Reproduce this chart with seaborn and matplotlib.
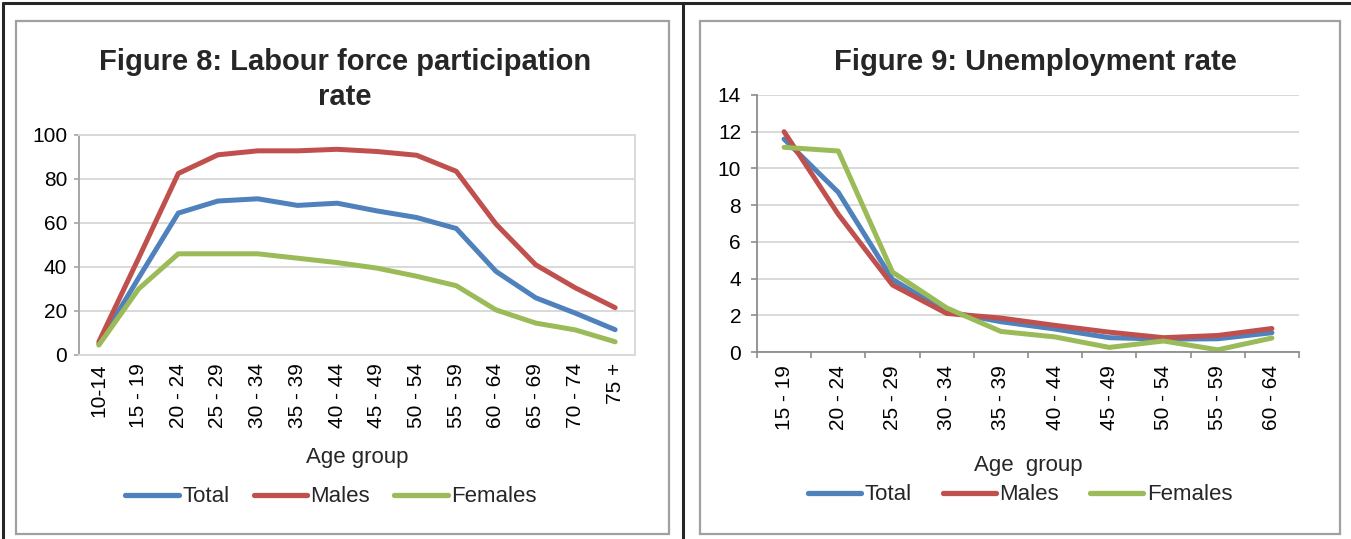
import matplotlib
matplotlib.use("Agg")
import matplotlib.pyplot as plt
from matplotlib.patches import Rectangle
from matplotlib.lines import Line2D
import seaborn as sns
import pandas as pd

# ---- data -------------------------------------------------------------
lfp_ages = ["10-14", "15 - 19", "20 - 24", "25 - 29", "30 - 34", "35 - 39", "40 - 44",
            "45 - 49", "50 - 54", "55 - 59", "60 - 64", "65 - 69", "70 - 74", "75 +"]
lfp_total = [5, 35, 64.5, 70, 71, 68, 69, 65.5, 62.5, 57.5, 38, 26, 19, 11.5]
lfp_males = [6, 44, 82.5, 91, 92.8, 92.8, 93.5, 92.5, 90.8, 83.5, 59.5, 41, 30.5, 21.5]
lfp_females = [4.5, 30, 46, 46, 46, 44, 42, 39.5, 35.8, 31.5, 20.5, 14.5, 11.4, 6]

unemp_ages = ["15 - 19", "20 - 24", "25 - 29", "30 - 34", "35 - 39", "40 - 44",
              "45 - 49", "50 - 54", "55 - 59", "60 - 64"]
unemp_total = [11.6, 8.7, 3.95, 2.2, 1.65, 1.25, 0.78, 0.7, 0.72, 1.05]
unemp_males = [12.0, 7.5, 3.65, 2.1, 1.85, 1.45, 1.08, 0.78, 0.9, 1.28]
unemp_females = [11.15, 10.95, 4.35, 2.4, 1.12, 0.82, 0.25, 0.6, 0.12, 0.76]

series_names = ["Total", "Males", "Females"]
palette = {"Total": "#4F81BD", "Males": "#C0504D", "Females": "#9BBB59"}


def long_frame(ages, total, males, females):
    rows = []
    for name, vals in zip(series_names, [total, males, females]):
        for a, v in zip(ages, vals):
            rows.append({"age": a, "value": v, "series": name})
    return pd.DataFrame(rows)


lfp_df = long_frame(lfp_ages, lfp_total, lfp_males, lfp_females)
unemp_df = long_frame(unemp_ages, unemp_total, unemp_males, unemp_females)

# ---- figure -----------------------------------------------------------
sns.set_theme(style="white")
plt.rcParams["font.family"] = ["Liberation Sans", "DejaVu Sans"]

W, H = 1351, 539
fig = plt.figure(figsize=(W / 100, H / 100), dpi=100)
fig.patch.set_facecolor("white")


def px_axes(x0, y0, x1, y1):
    """Axes placed by pixel box (top-left origin)."""
    return fig.add_axes([x0 / W, 1 - y1 / H, (x1 - x0) / W, (y1 - y0) / H])


def px_rect(x0, y0, x1, y1, **kw):
    fig.add_artist(Rectangle((x0 / W, 1 - y1 / H), (x1 - x0) / W, (y1 - y0) / H,
                             transform=fig.transFigure, fill=False, **kw))


def px_line(xs, ys, **kw):
    fig.add_artist(Line2D([x / W for x in xs], [1 - y / H for y in ys],
                          transform=fig.transFigure, **kw))


# table-cell frame and chart boxes
px_line([3, W], [3, 3], color="#262626", lw=2.2)
px_line([3, 3], [3, H], color="#262626", lw=2.2)
px_line([683, 683], [3, H], color="#262626", lw=2.2)
px_rect(16, 21, 669, 534, edgecolor="#A0A0A0", lw=1.6)
px_rect(700, 21, 1340, 534, edgecolor="#A0A0A0", lw=1.6)

grid_c = "#D9D9D9"
axis_c = "#A6A6A6"
tick_fs = 15
label_fs = 16
title_fs = 21
line_w = 3.6

# ---- Figure 8 ---------------------------------------------------------
ax1 = px_axes(79, 135, 635, 355)
sns.lineplot(data=lfp_df, x="age", y="value", hue="series", palette=palette,
             hue_order=series_names, lw=line_w, ax=ax1, legend=False, sort=False)
ax1.set_xlim(-0.5, len(lfp_ages) - 0.5)
ax1.set_ylim(0, 100)
ax1.set_yticks(range(0, 101, 20))
ax1.yaxis.grid(True, color=grid_c, lw=1.4)
ax1.set_axisbelow(True)
for s in ax1.spines.values():
    s.set_color(grid_c)
    s.set_linewidth(1.4)
ax1.spines["left"].set_color(axis_c)
ax1.set_xticks(range(len(lfp_ages)))
ax1.set_xticklabels(lfp_ages, rotation=90)
ax1.tick_params(axis="x", length=0, pad=6, labelsize=tick_fs, colors="black")
ax1.tick_params(axis="y", length=3.6, color=axis_c, width=1.2, pad=5,
                labelsize=tick_fs, colors="black", left=True)
ax1.set_xlabel("Age group", fontsize=label_fs)
ax1.xaxis.set_label_coords(0.5, -0.465)
ax1.xaxis.label.set_va("center")
ax1.set_ylabel("")
fig.text(345 / W, 1 - 62 / H, "Figure 8: Labour force participation",
         ha="center", va="center", fontsize=title_fs, fontweight="bold")
fig.text(345 / W, 1 - 97 / H, "rate",
         ha="center", va="center", fontsize=title_fs, fontweight="bold")

# ---- Figure 9 ---------------------------------------------------------
ax2 = px_axes(757, 95, 1299, 352)
sns.lineplot(data=unemp_df, x="age", y="value", hue="series", palette=palette,
             hue_order=series_names, lw=line_w, ax=ax2, legend=False, sort=False)
ax2.set_xlim(-0.5, len(unemp_ages) - 0.5)
ax2.set_ylim(0, 14)
ax2.set_yticks(range(0, 15, 2))
ax2.yaxis.grid(True, color=grid_c, lw=1.4)
ax2.set_axisbelow(True)
ax2.spines["top"].set_visible(False)
ax2.spines["right"].set_visible(False)
for side in ("left", "bottom"):
    ax2.spines[side].set_color("#8C8C8C")
    ax2.spines[side].set_linewidth(1.3)
ax2.set_xticks(range(len(unemp_ages)))
ax2.set_xticklabels(unemp_ages, rotation=90)
ax2.set_xticks([i + 0.5 for i in range(-1, len(unemp_ages))], minor=True)
ax2.tick_params(axis="x", which="major", length=0, pad=9.5, labelsize=tick_fs, colors="black")
ax2.tick_params(axis="x", which="minor", length=4.5, width=1.2, color="#8C8C8C", bottom=True)
ax2.tick_params(axis="y", length=4.5, color="#8C8C8C", width=1.2, pad=7,
                labelsize=tick_fs, colors="black", left=True)
ax2.set_xlabel("Age  group", fontsize=label_fs)
ax2.xaxis.set_label_coords(0.5, -0.44)
ax2.xaxis.label.set_va("center")
ax2.set_ylabel("")
fig.text(1035 / W, 1 - 62 / H, "Figure 9: Unemployment rate",
         ha="center", va="center", fontsize=title_fs, fontweight="bold")

# ---- legends ----------------------------------------------------------
handles = [Line2D([], [], color=palette[n], lw=3.8) for n in series_names]
for cx, cy, colsp in [(331, 497, 1.1), (1020, 495, 1.4)]:
    fig.legend(handles, series_names, loc="center",
               bbox_to_anchor=(cx / W, 1 - cy / H), ncol=3, frameon=False,
               fontsize=label_fs, handlelength=2.4, handletextpad=0.15,
               columnspacing=colsp, borderpad=0)

fig.savefig("out.png", dpi=100, facecolor="white")
